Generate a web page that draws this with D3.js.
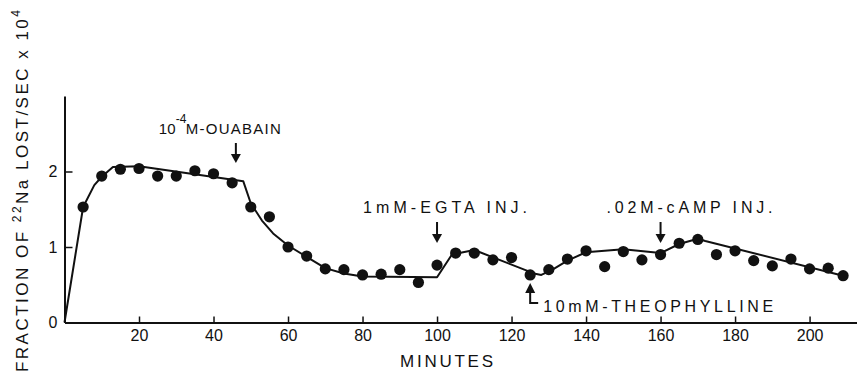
<!DOCTYPE html>
<html><head><meta charset="utf-8">
<script src="https://cdn.jsdelivr.net/npm/d3@7"></script>
<style>
html,body{margin:0;padding:0;background:#fff;}
svg text{font-family:"Liberation Sans",Arial,sans-serif;fill:#111;}
</style></head>
<body><svg id="c" width="857" height="377"></svg>
<script>
// Observed points: minutes and fraction of 22Na lost/sec x 10^4
const minutes = [5,10,15,20,25,30,35,40,45,50,55,60,65,70,75,80,85,90,95,100,105,110,115,120,125,130,135,140,145,150,155,160,165,170,175,180,185,190,195,200,205,209];
const values  = [1.53,1.94,2.03,2.04,1.94,1.94,2.01,1.97,1.85,1.53,1.40,1.00,0.88,0.71,0.70,0.63,0.64,0.70,0.53,0.76,0.92,0.92,0.83,0.86,0.63,0.70,0.84,0.95,0.74,0.94,0.83,0.90,1.05,1.10,0.90,0.95,0.82,0.75,0.84,0.71,0.72,0.62];
// Fitted curve
const fitMinutes = [0,5,8,10,13,20,48,50,53,56,60,65,70,75,80,100,104,110,126,128,131,135,140,150,160,165,170,172,209];
const fitValues  = [0,1.53,1.82,1.93,2.06,2.07,1.87,1.58,1.35,1.18,1.02,0.87,0.72,0.65,0.61,0.60,0.90,0.96,0.65,0.63,0.70,0.82,0.93,0.97,0.92,1.04,1.11,1.08,0.62];
const xTicks = [20,40,60,80,100,120,140,160,180,200];
const yTicks = [0,1,2];
const annoLabels = ["1mM-EGTA INJ.", ".02M-cAMP INJ."];
const annoMinutes = [100, 160];
const ouabainMinute = 46;
const theoLabel = "10mM-THEOPHYLLINE";
const theoMinute = 125;

const svg = d3.select("#c");
const x = d3.scaleLinear().domain([0,213]).range([64.5,858]);
const y = d3.scaleLinear().domain([0,3]).range([322.5,96]);

// axes
const xAxis = d3.axisBottom(x).tickValues(xTicks).tickSizeInner(-6).tickSizeOuter(0).tickPadding(10);
const gx = svg.append("g").attr("transform",`translate(0,${y(0)})`).call(xAxis);
gx.select(".domain").attr("stroke","#111").attr("stroke-width",2);
gx.selectAll(".tick line").attr("stroke","#111").attr("stroke-width",1.5);
gx.selectAll(".tick text").attr("font-size",16).attr("fill","#111").attr("dy","0.55em");

const yAxis = d3.axisLeft(y).tickValues(yTicks).tickFormat(d3.format("d")).tickSizeInner(-8).tickSizeOuter(0).tickPadding(7);
const gy = svg.append("g").attr("transform",`translate(${x(0)},0)`).call(yAxis);
gy.select(".domain").attr("stroke","#111").attr("stroke-width",2);
gy.selectAll(".tick line").attr("stroke","#111").attr("stroke-width",1.5).filter(d=>d===0).remove();
gy.selectAll(".tick text").attr("font-size",16).attr("fill","#111");
gy.selectAll("text").style("font-family","Liberation Sans, Arial, sans-serif");
gx.selectAll("text").style("font-family","Liberation Sans, Arial, sans-serif");

// fit line
const fit = fitMinutes.map((m,i)=>[m,fitValues[i]]);
svg.append("path").datum(fit)
  .attr("d", d3.line().x(d=>x(d[0])).y(d=>y(d[1])).curve(d3.curveLinear))
  .attr("fill","none").attr("stroke","#111").attr("stroke-width",2).attr("stroke-linejoin","round");

// dots
svg.append("g").selectAll("circle").data(minutes.map((m,i)=>[m,values[i]])).join("circle")
  .attr("cx",d=>x(d[0])).attr("cy",d=>y(d[1])).attr("r",5.6).attr("fill","#111");

// arrow helper
function downArrow(ax, y1, y2){
  svg.append("line").attr("x1",ax).attr("x2",ax).attr("y1",y1).attr("y2",y2-6).attr("stroke","#111").attr("stroke-width",2);
  svg.append("path").attr("d",`M${ax-5},${y2-9}L${ax+5},${y2-9}L${ax},${y2}Z`).attr("fill","#111");
}

// Ouabain
{
  const ax = x(ouabainMinute);
  downArrow(ax, 143, 163);
  svg.append("text").attr("x",ax-77).attr("y",134).attr("font-size",15).text("10");
  svg.append("text").attr("x",ax-60).attr("y",123).attr("font-size",12).text("-4");
  svg.append("text").attr("x",ax-50).attr("y",134).attr("font-size",15)
    .attr("textLength",95).attr("lengthAdjust","spacing").text("M-OUABAIN");
}
// EGTA, cAMP
const annoOff = [-74,-54];
const annoLen = [164,166];
annoLabels.forEach((lab,i)=>{
  const ax = x(annoMinutes[i]);
  downArrow(ax, 222, 243);
  svg.append("text").attr("x",ax+annoOff[i]).attr("y",213).attr("font-size",16)
    .attr("textLength",annoLen[i]).attr("lengthAdjust","spacing").text(lab);
});
// Theophylline
{
  const ax = x(theoMinute);
  svg.append("path").attr("d",`M${ax},${291}L${ax},${303}L${ax+8},${303}`).attr("fill","none").attr("stroke","#111").attr("stroke-width",2);
  svg.append("path").attr("d",`M${ax-5},${293}L${ax+5},${293}L${ax},${283}Z`).attr("fill","#111");
  svg.append("text").attr("x",ax+13).attr("y",312).attr("font-size",16)
    .attr("textLength",230).attr("lengthAdjust","spacing").text(theoLabel);
}

// axis titles
svg.append("text").attr("x",400).attr("y",367).attr("font-size",17)
  .attr("textLength",93).attr("lengthAdjust","spacing").text("MINUTES");

const yl = svg.append("text").attr("transform","translate(28,372) rotate(-90)").attr("font-size",17)
  .attr("textLength",362).attr("lengthAdjust","spacing");
yl.append("tspan").text("FRACTION OF ");
yl.append("tspan").attr("font-size",12).attr("dy",-7).text("22");
yl.append("tspan").attr("dy",7).text("Na LOST/SEC x 10");
yl.append("tspan").attr("font-size",12).attr("dy",-8).text("4");
</script></body></html>
